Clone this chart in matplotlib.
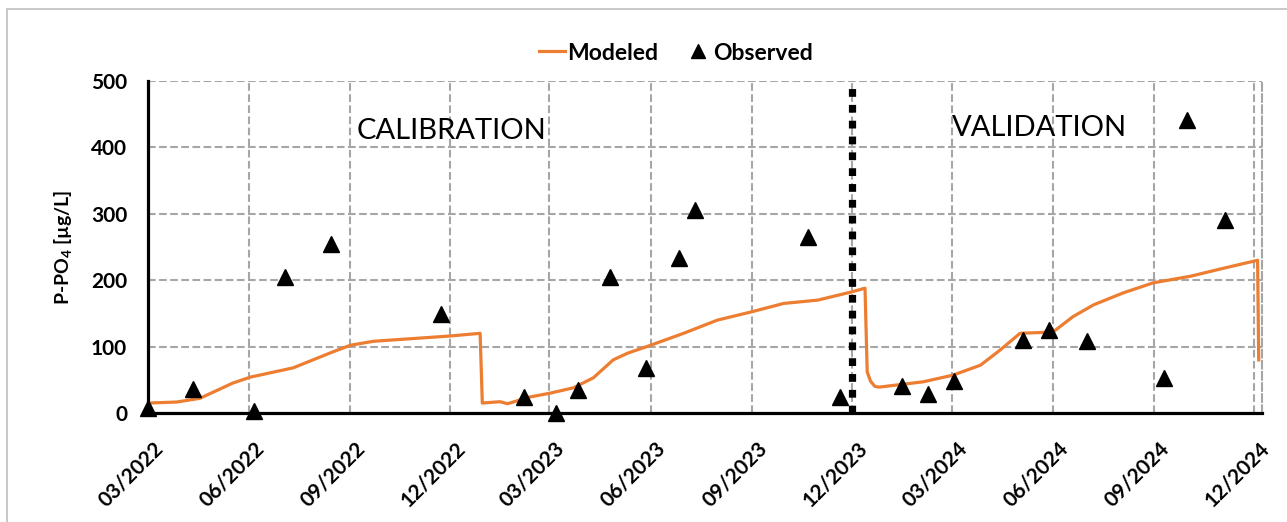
import numpy as np
import pandas as pd
import matplotlib
matplotlib.use("Agg")
import matplotlib.pyplot as plt
import matplotlib.transforms as mtransforms
from matplotlib.lines import Line2D
from matplotlib.patches import Rectangle

plt.rcParams['font.family'] = ['Lato', 'DejaVu Sans']
plt.rcParams['mathtext.fontset'] = 'custom'
plt.rcParams['mathtext.rm'] = 'Lato:bold'
plt.rcParams['mathtext.default'] = 'rm'
plt.rcParams['lines.scale_dashes'] = False

# modeled P-PO4 (ug/L)
model_dates = ['2022-03-01', '2022-03-27', '2022-04-17', '2022-05-17', '2022-06-02',
               '2022-07-11', '2022-08-16', '2022-09-01', '2022-09-22', '2022-12-01',
               '2022-12-28', '2022-12-30', '2023-01-15', '2023-01-22', '2023-02-11',
               '2023-03-02', '2023-03-23', '2023-04-10', '2023-04-28', '2023-05-11',
               '2023-06-01', '2023-07-01', '2023-08-01', '2023-08-31', '2023-09-30',
               '2023-10-31', '2023-11-30', '2023-12-13', '2023-12-15', '2023-12-18',
               '2023-12-22', '2023-12-26', '2024-01-05', '2024-02-04', '2024-03-02',
               '2024-03-27', '2024-04-14', '2024-05-02', '2024-06-01', '2024-06-19',
               '2024-07-08', '2024-08-04', '2024-08-31', '2024-10-04', '2024-11-03',
               '2024-12-04', '2024-12-05']
model_vals = [15, 16.5, 22, 45, 54,
              68, 92, 102, 108, 116,
              120, 15, 17, 14, 24,
              30, 38, 53, 80, 90,
              102, 120, 140, 152, 165,
              170, 182, 188, 62, 48,
              40, 39, 41, 47, 57,
              72, 95, 120, 122, 145,
              163, 181, 196, 206, 218,
              230, 80]

# observed P-PO4 (ug/L)
obs_dates = ['2022-03-01', '2022-04-11', '2022-06-05', '2022-07-04', '2022-08-14',
             '2022-11-22', '2023-02-06', '2023-03-07', '2023-03-27', '2023-04-25',
             '2023-05-28', '2023-06-27', '2023-07-11', '2023-10-22', '2023-11-20',
             '2024-01-16', '2024-02-08', '2024-03-03', '2024-05-05', '2024-05-28',
             '2024-07-02', '2024-09-10', '2024-10-01', '2024-11-04']
obs_vals = [8, 36, 3, 205, 254,
            149, 24, 0, 35, 205,
            68, 233, 305, 265, 24,
            41, 29, 48, 110, 125,
            108, 53, 441, 291]

split_date = '2023-12-01'
tick_dates = pd.date_range('2022-03-01', '2024-12-01', freq='3MS')
tick_labels = [d.strftime('%m/%Y') for d in tick_dates]

md = pd.to_datetime(model_dates)
od = pd.to_datetime(obs_dates)

W, H = 1287, 522
fig = plt.figure(figsize=(W / 100, H / 100), dpi=100)
ax = fig.add_axes([148 / W, 109 / H, (1262 - 148) / W, (413 - 81) / H])

grid_kw = dict(color='#A6A6A6', lw=1.5, linestyle=(0, (5.5, 2.5)))
ax.set_axisbelow(True)
ax.grid(True, **grid_kw)

ax.plot(md, model_vals, color='#ED7D31', lw=2.3, solid_joinstyle='round', zorder=3)
ax.plot(od, obs_vals, linestyle='none', marker='^', ms=11, color='black',
        clip_on=False, zorder=4)
ax.axvline(pd.Timestamp(split_date), color='black', lw=5.2,
           linestyle=(0, (5.6, 5.8)), zorder=5)

ax.set_xlim(pd.Timestamp('2022-03-01'), pd.Timestamp('2024-12-08'))
ax.set_ylim(0, 500)
ax.set_yticks(np.arange(0, 501, 100))
ax.set_xticks(tick_dates)
ax.set_xticklabels(tick_labels, rotation=45, ha='right', rotation_mode='anchor',
                   fontsize=15, fontweight='bold')
ax.tick_params(axis='x', length=0, pad=18)
ax.tick_params(axis='y', length=0, pad=15, labelsize=15)
for lab in ax.get_yticklabels():
    lab.set_fontweight('bold')
offset = mtransforms.ScaledTranslation(5 / 100, 0, fig.dpi_scale_trans)
for lab in ax.get_xticklabels():
    lab.set_transform(lab.get_transform() + offset)

for s in ['left', 'bottom']:
    ax.spines[s].set_linewidth(2.3)
    ax.spines[s].set_color('black')
ax.spines['top'].set_visible(False)
ax.spines['right'].set_color('#A6A6A6')
ax.spines['right'].set_linewidth(1.5)
ax.spines['right'].set_linestyle((0, (5.5, 2.5)))

ax.set_ylabel('P-PO$_4$ [µg/L]', fontsize=14, fontweight='bold', labelpad=12)

ax.text(pd.Timestamp('2022-12-02'), 425, 'CALIBRATION', fontsize=21,
        ha='center', va='center')
ax.text(pd.Timestamp('2024-05-20'), 429, 'VALIDATION', fontsize=21,
        ha='center', va='center')

handles = [Line2D([], [], color='#ED7D31', lw=2.3),
           Line2D([], [], linestyle='none', marker='^', ms=10, color='black')]
fig.legend(handles, ['Modeled', 'Observed'], loc='center',
           bbox_to_anchor=(676 / W, 1 - 53 / H), ncol=2, frameon=False,
           prop=dict(family='Lato', weight='bold', size=16.5),
           handlelength=1.1, handletextpad=0.1, columnspacing=1.2)

fig.patches.append(Rectangle((7 / W, -0.1), 1.2, 1 - 9 / H + 0.1,
                             transform=fig.transFigure, fill=False,
                             edgecolor='#BFBFBF', lw=1.2))

fig.savefig('out.png', dpi=100)
